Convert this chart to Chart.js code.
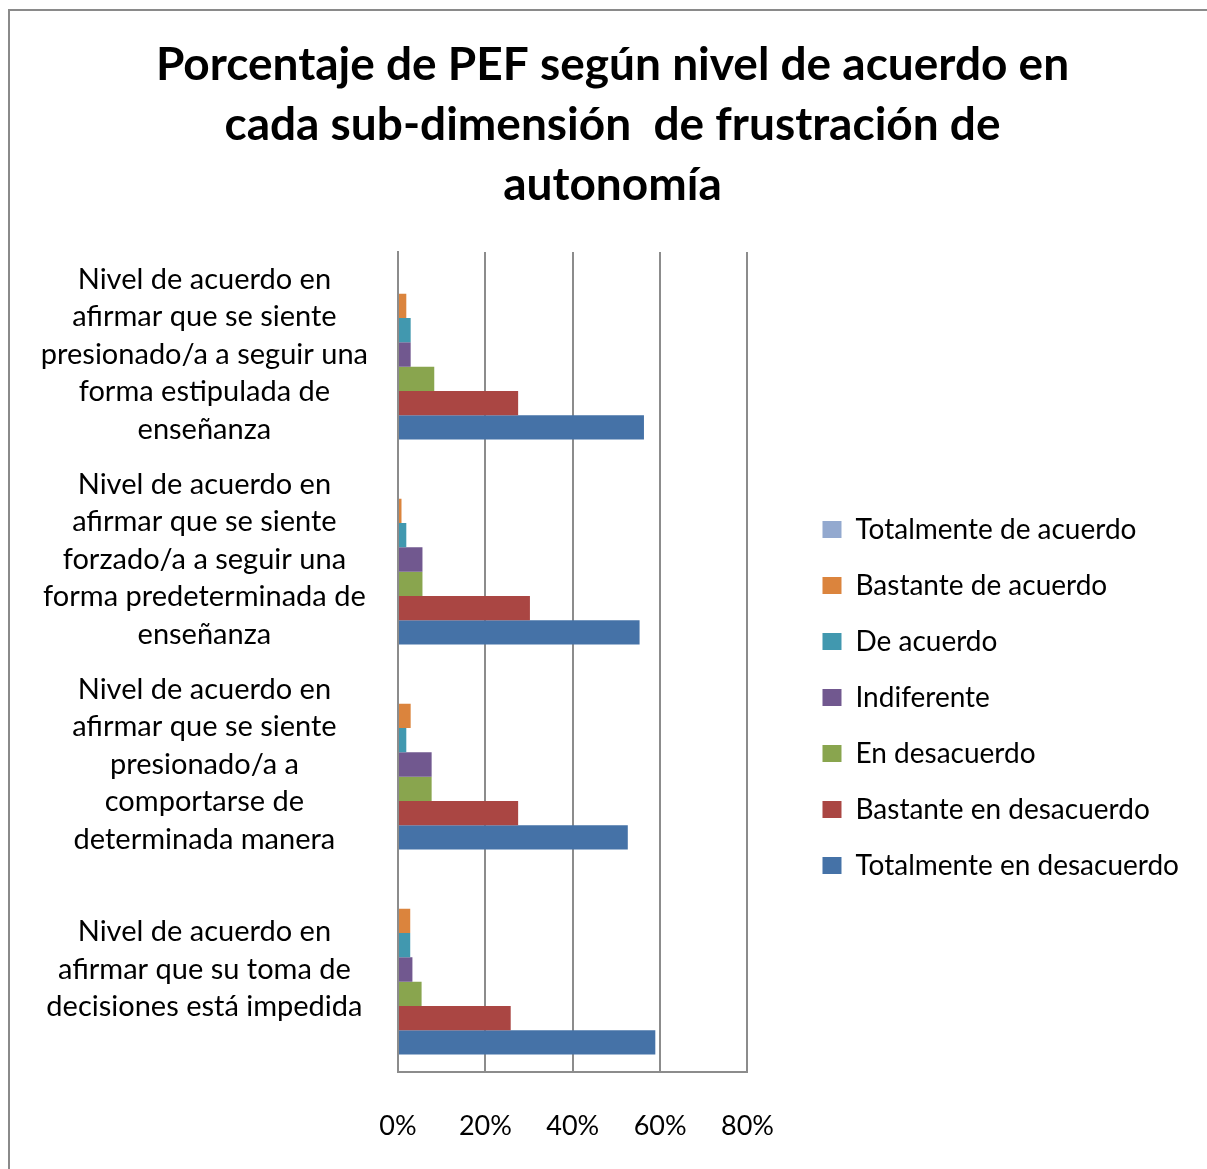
<!DOCTYPE html>
<html>
<head>
<meta charset="utf-8">
<script src="https://cdn.jsdelivr.net/npm/chart.js@4.4.1/dist/chart.umd.min.js"></script>
<style>
  html, body { margin: 0; padding: 0; background: #fff; overflow: hidden; }
  #frame {
    position: absolute; left: 8px; top: 9px; width: 1300px; height: 1300px;
    border-left: 2px solid #8a8a8a; border-top: 2px solid #8a8a8a;
  }
  #chart { position: absolute; left: 0; top: 0; }
</style>
</head>
<body>
<div id="frame"></div>
<canvas id="chart" width="1207" height="1169"></canvas>
<script>
// Categories (top to bottom as drawn)
const categories = [
  ['Nivel de acuerdo en', 'afirmar que se siente', 'presionado/a a seguir una', 'forma estipulada de', 'enseñanza'],
  ['Nivel de acuerdo en', 'afirmar que se siente', 'forzado/a a seguir una', 'forma predeterminada de', 'enseñanza'],
  ['Nivel de acuerdo en', 'afirmar que se siente', 'presionado/a a', 'comportarse de', 'determinada manera'],
  ['Nivel de acuerdo en', 'afirmar que su toma de', 'decisiones está impedida']
];

const titleLines = [
  'Porcentaje de PEF según nivel de acuerdo en',
  'cada sub-dimensión  de frustración de',
  'autonomía'
];

// Series values in %
const totalmenteDeAcuerdo = [0, 0, 0, 0];
const bastanteDeAcuerdo = [1.9, 0.8, 2.9, 2.8];
const deAcuerdo = [2.9, 1.9, 1.9, 2.8];
const indiferente = [2.9, 5.6, 7.7, 3.3];
const enDesacuerdo = [8.3, 5.6, 7.7, 5.4];
const bastanteEnDesacuerdo = [27.5, 30.2, 27.5, 25.8];
const totalmenteEnDesacuerdo = [56.3, 55.3, 52.6, 58.9];

const seriesNames = [
  'Totalmente de acuerdo',
  'Bastante de acuerdo',
  'De acuerdo',
  'Indiferente',
  'En desacuerdo',
  'Bastante en desacuerdo',
  'Totalmente en desacuerdo'
];

const xTicks = [0, 20, 40, 60, 80];

const seriesValues = [
  totalmenteDeAcuerdo, bastanteDeAcuerdo, deAcuerdo, indiferente,
  enDesacuerdo, bastanteEnDesacuerdo, totalmenteEnDesacuerdo
];
const seriesColors = ['#93A9CF', '#DB843D', '#4198AF', '#71588F', '#89A54E', '#AA4643', '#4572A7'];

const FONT = 'Lato, "Open Sans", sans-serif';
const LEGEND_GAP = 47;

// Push the legend away from the plot area without moving the items
const legendGap = {
  id: 'legendGap',
  beforeLayout(chart) {
    const lg = chart.legend;
    if (lg && !lg._gapPatched) {
      const fit = lg.fit;
      lg.fit = function () {
        fit.call(this);
        this.width += LEGEND_GAP;
      };
      lg._gapPatched = true;
    }
  },
  afterLayout(chart) {
    const lg = chart.legend;
    if (lg) {
      lg.left += LEGEND_GAP;
    }
  }
};

const ctx = document.getElementById('chart');

new Chart(ctx, {
  type: 'bar',
  data: {
    labels: categories,
    datasets: seriesNames.map((name, i) => ({
      label: name,
      data: seriesValues[i],
      backgroundColor: seriesColors[i],
      borderWidth: 0,
      categoryPercentage: 0.83,
      barPercentage: 1
    }))
  },
  options: {
    indexAxis: 'y',
    responsive: false,
    animation: false,
    devicePixelRatio: 1,
    layout: {
      padding: { left: 36, right: 18, top: 0, bottom: 27 }
    },
    plugins: {
      title: {
        display: true,
        text: titleLines,
        color: '#000',
        font: { family: FONT, size: 46, weight: 'bold', lineHeight: 60 / 46 },
        padding: { top: 35, bottom: 37 }
      },
      legend: {
        position: 'right',
        align: 'center',
        fullSize: false,
        maxWidth: 600,
        title: {
          display: true,
          text: ' ',
          font: { size: 10, lineHeight: 1 },
          padding: { top: 61, bottom: 0 }
        },
        labels: {
          color: '#000',
          font: { family: FONT, size: 28 },
          boxWidth: 19,
          boxHeight: 17,
          padding: 28
        }
      },
      tooltip: { enabled: false }
    },
    scales: {
      x: {
        min: 0,
        max: 80,
        afterBuildTicks: (scale) => {
          scale.ticks = xTicks.map(v => ({ value: v }));
        },
        afterFit: (scale) => {
          scale.height = 70;
        },
        ticks: {
          color: '#000',
          padding: 38,
          maxRotation: 0,
          font: { family: FONT, size: 27 },
          callback: (value) => value + '%'
        },
        grid: {
          color: '#8c8c8c',
          lineWidth: 2,
          drawTicks: false
        },
        border: { color: '#8c8c8c', width: 2 }
      },
      y: {
        afterFit: (scale) => {
          scale.width = 362;
          scale.paddingTop = 0;
          scale.paddingBottom = 0;
        },
        ticks: {
          color: '#000',
          padding: 30,
          crossAlign: 'center',
          font: { family: FONT, size: 29, lineHeight: 37.5 / 29 }
        },
        grid: { display: false, drawTicks: false },
        border: { color: '#8c8c8c', width: 2 }
      }
    }
  },
  plugins: [legendGap]
});
</script>
</body>
</html>
